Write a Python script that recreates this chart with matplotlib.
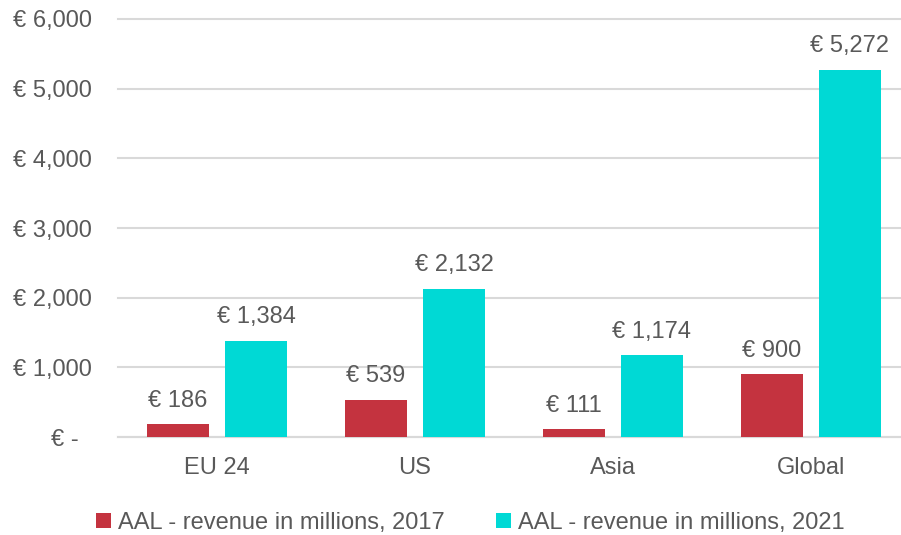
import matplotlib
matplotlib.use("Agg")
import matplotlib.pyplot as plt
import numpy as np

regions = ["EU 24", "US", "Asia", "Global"]
rev_2017 = [186, 539, 111, 900]
rev_2021 = [1384, 2132, 1174, 5272]
series_names = ["AAL - revenue in millions, 2017", "AAL - revenue in millions, 2021"]
yticks = [0, 1000, 2000, 3000, 4000, 5000, 6000]

RED = "#C4333F"
TEAL = "#00D9D5"
GREY = "#595959"
GRID = "#D9D9D9"

plt.rcParams["font.family"] = ["Liberation Sans", "DejaVu Sans"]

fig = plt.figure(figsize=(9.01, 5.35), dpi=100)
ax = fig.add_axes([0.131, 0.183, 0.869, 0.7815])

x = np.arange(len(regions))
w = 0.313
off = 0.197
b1 = ax.bar(x - off, rev_2017, w, color=RED, label=series_names[0], zorder=3)
b2 = ax.bar(x + off, rev_2021, w, color=TEAL, label=series_names[1], zorder=3)

for bars, vals in [(b1, rev_2017), (b2, rev_2021)]:
    for rect, v in zip(bars, vals):
        ax.annotate(f"€ {v:,}", (rect.get_x() + rect.get_width() / 2, v),
                    xytext=(0, 9), textcoords="offset points",
                    ha="center", va="bottom", fontsize=17, color=GREY)

def fmt(v):
    return "€ -  " if v == 0 else f"€ {v:,}"

ax.set_yticks(yticks)
ax.set_yticklabels([fmt(v) for v in yticks])
ax.set_ylim(0, 6000)
ax.set_xlim(-0.5, 3.455)
ax.set_xticks(x)
ax.set_xticklabels(regions)

ax.tick_params(axis="y", length=0, pad=19, labelsize=17, labelcolor=GREY)
ax.tick_params(axis="x", length=0, pad=14, labelsize=17, labelcolor=GREY)
ax.grid(axis="y", color=GRID, linewidth=1.5, zorder=0)
for gl in ax.get_ygridlines():
    gl.set_clip_on(False)
for s in ["top", "right", "left"]:
    ax.spines[s].set_visible(False)
ax.spines["bottom"].set_color(GRID)
ax.spines["bottom"].set_linewidth(1.5)

fig.legend(loc="center", bbox_to_anchor=(0.522, 0.022), ncol=2, frameon=False,
           fontsize=17, labelcolor=GREY, handlelength=0.6, handleheight=0.6,
           handletextpad=0.3, columnspacing=2.2, borderpad=0)

fig.savefig("out.png", dpi=100)
